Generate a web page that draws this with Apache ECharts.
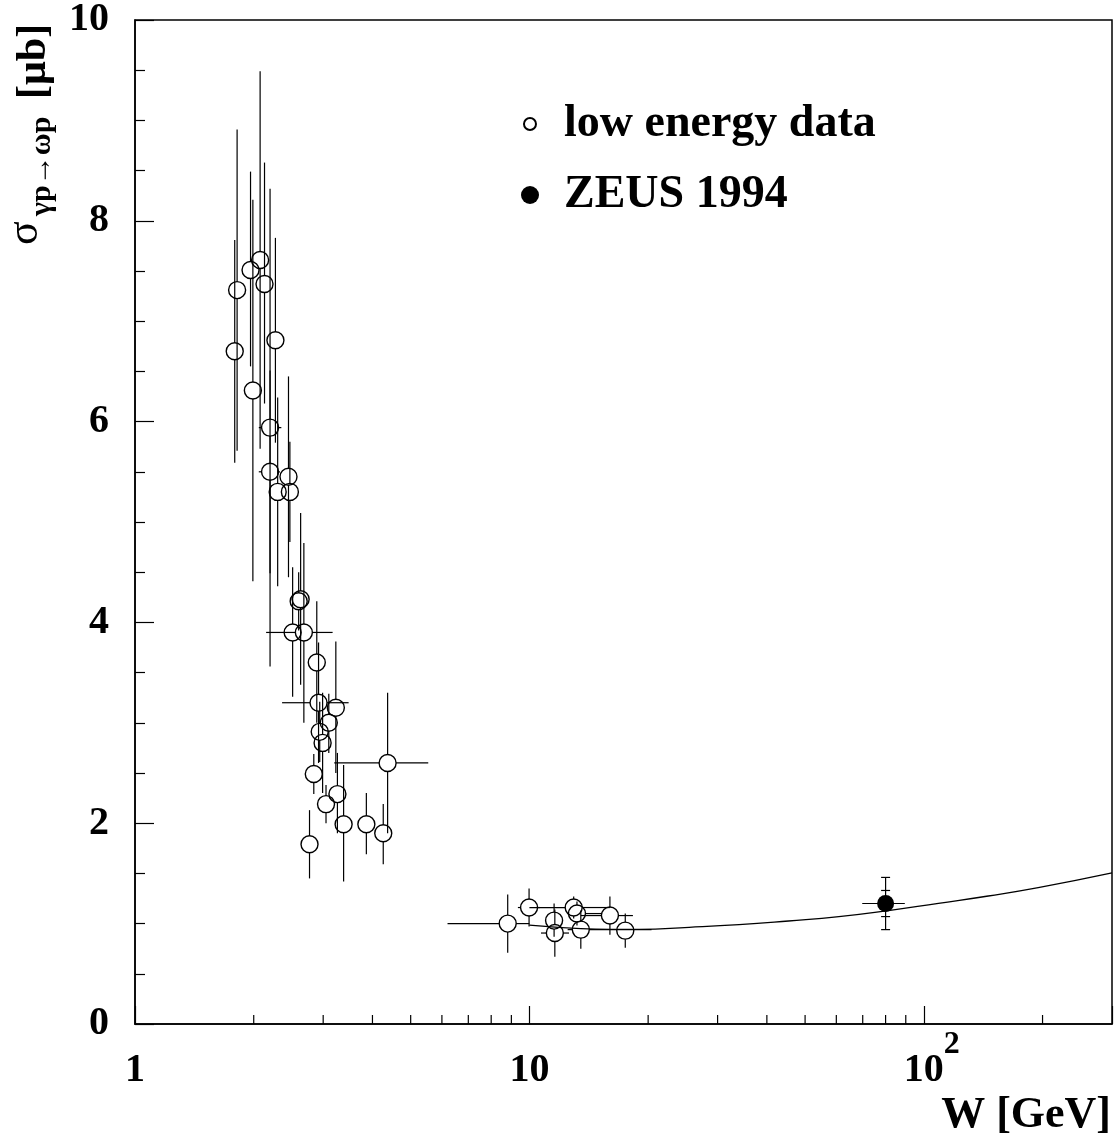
<!DOCTYPE html>
<html><head><meta charset="utf-8">
<script src="https://cdn.jsdelivr.net/npm/echarts@6/dist/echarts.min.js"></script>
<style>html,body{margin:0;padding:0;background:#fff}#c{width:1115px;height:1141px}</style>
</head><body><div id="c"></div>
<script>
// ---- data ----
const lowW     = [1.79, 1.815, 1.963, 1.99, 2.076, 2.13, 2.27, 2.20, 2.20, 2.45, 2.30, 2.47, 2.63, 2.60, 2.51, 2.68, 2.89, 2.92, 3.23, 3.10, 2.94, 2.99, 4.37, 2.84, 3.26, 3.05, 3.38, 3.86, 4.26, 2.77, 8.81, 9.98, 11.55, 11.6, 12.95, 13.2, 13.5, 16.0, 17.5];
const lowSig   = [6.70, 7.31, 7.51, 6.31, 7.61, 7.37, 6.81, 5.94, 5.50, 5.45, 5.30, 5.30, 4.23, 4.21, 3.90, 3.90, 3.60, 3.20, 3.15, 3.00, 2.91, 2.80, 2.60, 2.49, 2.29, 2.19, 1.99, 1.99, 1.90, 1.79, 1.00, 1.16, 1.03, 0.906, 1.16, 1.10, 0.94, 1.08, 0.93];
const lowSigLo = [5.59, 5.71, 6.55, 4.41, 5.73, 6.18, 5.79, 3.56, 4.49, 4.45, 4.36, 4.80, 3.38, 3.92, 3.26, 3.00, 3.00, 2.60, 2.50, 2.70, 2.61, 2.30, 1.90, 2.29, 1.90, 2.00, 1.42, 1.69, 1.59, 1.45, 0.71, 0.97, 0.87, 0.67, 1.05, 0.98, 0.75, 0.89, 0.76];
const lowSigHi = [7.81, 8.91, 8.49, 8.21, 9.49, 8.58, 7.83, 8.32, 6.51, 6.45, 6.24, 5.80, 5.09, 4.50, 4.55, 4.79, 4.21, 3.80, 3.81, 3.29, 3.21, 3.30, 3.30, 2.69, 2.70, 2.38, 2.58, 2.30, 2.19, 2.13, 1.29, 1.35, 1.20, 1.14, 1.27, 1.22, 1.13, 1.27, 1.10];
const lowWLo   = [null, 1.74, null, null, 1.99, null, null, 2.06, 2.06, null, null, null, null, 2.52, null, 2.15, 2.80, 2.36, 3.10, null, 2.86, null, 3.20, null, null, null, 3.30, null, null, null, 6.2, 9.35, 11.1, 10.7, 10.0, 12.5, 12.5, 13.5, 16.7];
const lowWHi   = [null, 1.87, null, null, 2.18, null, null, 2.35, 2.33, null, null, null, null, 2.68, null, 3.17, 2.98, 3.48, 3.36, null, 3.02, null, 5.54, null, null, null, 3.47, null, null, null, 10.0, 10.65, 12.1, 12.6, 16.0, 15.3, 20.4, 18.3, 18.3];

const zeusW      = [80];
const zeusSig    = [1.20];
const zeusStatLo = [1.07];
const zeusStatHi = [1.33];
const zeusTotLo  = [0.94];
const zeusTotHi  = [1.46];
const zeusWLo    = [69.8];
const zeusWHi    = [89.5];

const fitW   = [10, 13.5, 16, 19, 25.4, 34, 45.4, 60.9, 79.7, 108.9, 145.7, 195, 300];
const fitSig = [0.985, 0.950, 0.943, 0.943, 0.963, 0.989, 1.026, 1.069, 1.125, 1.202, 1.275, 1.358, 1.505];

const xMinorTicks = [2, 3, 4, 5, 6, 7, 8, 9, 20, 30, 40, 50, 60, 70, 80, 90, 200];
const legendNames = ['low energy data', 'ZEUS 1994'];

// ---- chart ----
const FONT = '"Liberation Serif", "Times New Roman", serif';
const chart = echarts.init(document.getElementById('c'));

function seg(x1, y1, x2, y2) {
  return { type: 'line', shape: { x1, y1, x2, y2 }, style: { stroke: '#000', lineWidth: 1.2 } };
}

const lowData = lowW.map((w, i) => [w, lowSig[i], lowSigLo[i], lowSigHi[i],
  lowWLo[i] == null ? w : lowWLo[i], lowWHi[i] == null ? w : lowWHi[i]]);
const zeusData = zeusW.map((w, i) => [w, zeusSig[i], zeusTotLo[i], zeusTotHi[i], zeusWLo[i], zeusWHi[i], zeusStatLo[i], zeusStatHi[i]]);

function lowErr(params, api) {
  const x = api.value(0), y = api.value(1);
  const c = api.coord([x, y]);
  const pLo = api.coord([x, api.value(2)]);
  const pHi = api.coord([x, api.value(3)]);
  const pl = api.coord([api.value(4), y]);
  const ph = api.coord([api.value(5), y]);
  const R = 8.5, ch = [];
  if (pHi[1] < c[1] - R) ch.push(seg(c[0], pHi[1], c[0], c[1] - R));
  if (pLo[1] > c[1] + R) ch.push(seg(c[0], c[1] + R, c[0], pLo[1]));
  if (pl[0] < c[0] - R) ch.push(seg(pl[0], c[1], c[0] - R, c[1]));
  if (ph[0] > c[0] + R) ch.push(seg(c[0] + R, c[1], ph[0], c[1]));
  return { type: 'group', children: ch };
}
function zeusErr(params, api) {
  const x = api.value(0), y = api.value(1);
  const c = api.coord([x, y]);
  const pLo = api.coord([x, api.value(2)]);
  const pHi = api.coord([x, api.value(3)]);
  const pl = api.coord([api.value(4), y]);
  const ph = api.coord([api.value(5), y]);
  const sLo = api.coord([x, api.value(6)]);
  const sHi = api.coord([x, api.value(7)]);
  const w = 4.5;
  return { type: 'group', children: [
    seg(c[0], pHi[1], c[0], pLo[1]),
    seg(pl[0], c[1], ph[0], c[1]),
    seg(c[0] - w, pHi[1], c[0] + w, pHi[1]),
    seg(c[0] - w, pLo[1], c[0] + w, pLo[1]),
    seg(c[0] - w, sHi[1], c[0] + w, sHi[1]),
    seg(c[0] - w, sLo[1], c[0] + w, sLo[1])
  ]};
}
function minorTick(params, api) {
  const p = api.coord([api.value(0), 0]);
  return seg(p[0], p[1], p[0], p[1] - 9);
}

const option = {
  animation: false,
  backgroundColor: '#fff',
  grid: { left: 135, right: 2, top: 20, bottom: 117, show: true, borderColor: '#000', borderWidth: 1.5, backgroundColor: 'transparent' },
  legend: {
    data: [
      { name: legendNames[0], icon: 'path://M0,0L0.01,0M18,18L18.01,18M3,9A6,6,0,1,1,15,9A6,6,0,1,1,3,9Z' },
      { name: legendNames[1], icon: 'circle' }
    ],
    orient: 'vertical', left: 515, top: 96,
    itemWidth: 18, itemHeight: 18, itemGap: 25,
    selectedMode: false,
    textStyle: { fontFamily: FONT, fontWeight: 'bold', fontSize: 46, color: '#000', lineHeight: 46, padding: [0, 0, 0, 20] }
  },
  xAxis: {
    type: 'log', logBase: 10, min: 1, max: 300,
    axisLine: { lineStyle: { color: '#000', width: 1.5 } },
    axisTick: { inside: true, length: 18, lineStyle: { color: '#000', width: 1.2 } },
    splitLine: { show: false },
    axisLabel: {
      margin: 5, color: '#000',
      formatter: function (v) {
        const e = Math.round(Math.log10(v) * 1000) / 1000;
        if (e === 0) return '{b|1}';
        if (e === 1) return '{b|10}';
        if (e === 2) return '{pad|}{b|10}{sup|2}';
        return '';
      },
      rich: {
        b: { fontFamily: FONT, fontWeight: 'bold', fontSize: 40, lineHeight: 84, color: '#000' },
        sup: { fontFamily: FONT, fontWeight: 'bold', fontSize: 32, lineHeight: 30, verticalAlign: 'top', color: '#000' },
        pad: { width: 16, lineHeight: 84 }
      }
    }
  },
  yAxis: {
    type: 'value', min: 0, max: 10, interval: 2,
    axisLine: { show: true, lineStyle: { color: '#000', width: 1.5 } },
    axisTick: { show: true, inside: true, length: 19, lineStyle: { color: '#000', width: 1.2 } },
    minorTick: { show: true, splitNumber: 4, length: 10, lineStyle: { color: '#000', width: 1.2 } },
    splitLine: { show: false },
    minorSplitLine: { show: false },
    axisLabel: { margin: 26, color: '#000', fontFamily: FONT, fontWeight: 'bold', fontSize: 40 }
  },
  graphic: [
    { type: 'text', x: 1111, y: 1116, style: { text: 'W [GeV]', font: 'bold 44px "Liberation Serif", serif', fill: '#000', textAlign: 'right', textVerticalAlign: 'middle' } },
    { type: 'group', x: 0, y: 0, rotation: Math.PI / 2, children: [
      { type: 'text', x: -245, y: 25, style: { text: 'σ', font: '44px "Liberation Serif", serif', fill: '#000', textAlign: 'left', textVerticalAlign: 'middle' } },
      { type: 'text', x: -216, y: 42, style: { text: 'γp→ωp', font: 'bold 30px "Liberation Serif", serif', fill: '#000', textAlign: 'left', textVerticalAlign: 'middle' } },
      { type: 'text', x: -99, y: 34, style: { text: '[μb]', font: 'bold 42px "Liberation Serif", serif', fill: '#000', textAlign: 'left', textVerticalAlign: 'middle' } }
    ]}
  ],
  series: [
    { name: 'fit', type: 'line', data: fitW.map((w, i) => [w, fitSig[i]]), smooth: true, showSymbol: false, symbol: 'none',
      lineStyle: { color: '#000', width: 1.3 }, z: 1, silent: true },
    { name: 'minorTicks', type: 'custom', data: xMinorTicks.map(v => [v, 0]), renderItem: minorTick, encode: { x: 0, y: 1 }, z: 4, silent: true },
    { name: 'lowErr', type: 'custom', data: lowData, renderItem: lowErr, encode: { x: 0, y: 1 }, z: 2, silent: true },
    { name: 'zeusErr', type: 'custom', data: zeusData, renderItem: zeusErr, encode: { x: 0, y: 1 }, z: 2, silent: true },
    { name: legendNames[0], type: 'scatter', data: lowW.map((w, i) => [w, lowSig[i]]), symbol: 'circle', symbolSize: 17,
      itemStyle: { color: 'rgba(255,255,255,0)', borderColor: '#000', borderWidth: 1.4, opacity: 1 }, z: 3, silent: true },
    { name: legendNames[1], type: 'scatter', data: zeusW.map((w, i) => [w, zeusSig[i]]), symbol: 'circle', symbolSize: 17,
      itemStyle: { color: '#000', opacity: 1 }, z: 3, silent: true }
  ]
};
chart.setOption(option);
</script></body></html>
